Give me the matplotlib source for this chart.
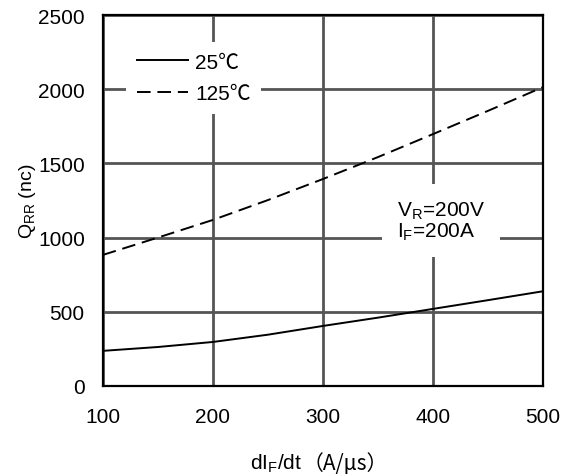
import numpy as np
import matplotlib
matplotlib.use("Agg")
import matplotlib.pyplot as plt

plt.rcParams['font.family'] = ['Liberation Sans', 'Noto Sans CJK SC', 'DejaVu Sans']
plt.rcParams['mathtext.fontset'] = 'custom'
plt.rcParams['mathtext.rm'] = 'Liberation Sans'
plt.rcParams['mathtext.it'] = 'Liberation Sans'

# data
didt = [100, 150, 200, 250, 300, 350, 400, 450, 500]
q_25 = [236, 262, 296, 345, 404, 460, 519, 578, 638]
q_125 = [883, 1000, 1119, 1253, 1395, 1543, 1698, 1855, 2015]
xticks = [100, 200, 300, 400, 500]
yticks = [0, 500, 1000, 1500, 2000, 2500]

fig = plt.figure(figsize=(5.68, 4.77), dpi=100)
ax = fig.add_axes([0.181, 0.189, 0.775, 0.777])

ax.plot(didt, q_25, color='black', lw=1.4, ls='-', label='25℃', zorder=3)
ax.plot(didt, q_125, color='black', lw=1.4, ls=(0, (7, 3.5)), label='125℃', zorder=3)

ax.set_xlim(100, 500)
ax.set_ylim(0, 2500)
ax.set_xticks(xticks)
ax.set_yticks(yticks)
ax.tick_params(length=0, labelsize=15, colors='black')
ax.tick_params(axis='x', pad=15)
ax.tick_params(axis='y', pad=13)
ax.grid(True, color='#555555', lw=2)
ax.set_axisbelow(True)
for s in ax.spines.values():
    s.set_linewidth(1.6)
    s.set_color('black')

ax.set_ylabel(r'Q$_\mathrm{RR}$ (nc)', fontsize=14, labelpad=0)

leg = ax.legend(loc='upper left', bbox_to_anchor=(0.03, 0.955), fontsize=15,
                frameon=True, framealpha=1, facecolor='white', edgecolor='none',
                handlelength=2.45, handletextpad=0.34, borderpad=0.5,
                labelspacing=0.6, fancybox=False)
leg.set_zorder(4)

ax.text(0.668, 0.445, 'V$_\\mathrm{R}$=200V\nI$_\\mathrm{F}$=200A', transform=ax.transAxes,
        fontsize=15, ha='left', va='center', linespacing=1.0, zorder=4,
        bbox=dict(facecolor='white', edgecolor='none', pad=11))

# x label in two parts so the full-width brackets come from the CJK font
t1 = fig.text(250 / 568, 1 - 464 / 477, r'dI$_\mathrm{F}$/dt', fontsize=15,
              ha='left', va='center')
fig.canvas.draw()
bb = t1.get_window_extent(fig.canvas.get_renderer())
fig.text(bb.x1 / 568, 1 - 464 / 477, '（A/μs）', fontsize=15,
         family=['Noto Sans CJK SC'], ha='left', va='center')

fig.savefig('out.png')
